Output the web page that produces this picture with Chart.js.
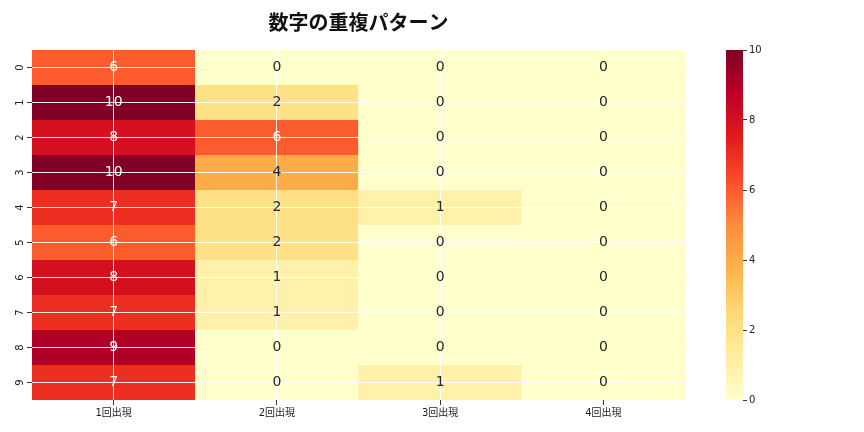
<!DOCTYPE html>
<html><head><meta charset="utf-8">
<script src="https://cdn.jsdelivr.net/npm/chart.js@4"></script>
<style>
html,body{margin:0;padding:0;background:#fff}
#wrap{position:relative;width:864px;height:432px;overflow:hidden}
#main{position:absolute;left:0;top:0}
#cb{position:absolute;left:690px;top:0}
</style>
</head><body>
<div id="wrap"><canvas id="main" width="864" height="432"></canvas><canvas id="cb" width="174" height="432"></canvas></div>
<script>
const titleText = '数字の重複パターン';
const columns = ['1回出現','2回出現','3回出現','4回出現'];
const rowLabels = ['0','1','2','3','4','5','6','7','8','9'];
const row0 = [6,0,0,0];
const row1 = [10,2,0,0];
const row2 = [8,6,0,0];
const row3 = [10,4,0,0];
const row4 = [7,2,1,0];
const row5 = [6,2,0,0];
const row6 = [8,1,0,0];
const row7 = [7,1,0,0];
const row8 = [9,0,0,0];
const row9 = [7,0,1,0];
const values = [row0,row1,row2,row3,row4,row5,row6,row7,row8,row9];
const vmin = 0, vmax = 10;
const cbTicks = [0,2,4,6,8,10];

const stops = [[255,255,204],[255,237,160],[254,217,118],[254,178,76],[253,141,60],[252,78,42],[227,26,28],[189,0,38],[128,0,38]];
function rgbAt(t){
  t = Math.max(0, Math.min(1, t));
  const p = t*(stops.length-1); const i = Math.min(Math.floor(p), stops.length-2); const f = p - i;
  return stops[i].map((c,k)=>Math.round(c + (stops[i+1][k]-c)*f));
}
function colorOf(v){ const c = rgbAt((v-vmin)/(vmax-vmin)); return `rgb(${c[0]},${c[1]},${c[2]})`; }
function textColorOf(v){
  const c = rgbAt((v-vmin)/(vmax-vmin)).map(x=>{x/=255; return x<=0.03928? x/12.92 : Math.pow((x+0.055)/1.055,2.4);});
  const lum = 0.2126*c[0]+0.7152*c[1]+0.0722*c[2];
  return lum > 0.408 ? '#262626' : '#ffffff';
}

const datasets = values.map((vals, r) => ({
  label: rowLabels[r],
  data: vals.map(() => [r-0.5, r+0.5]),
  vals: vals,
  backgroundColor: vals.map(colorOf),
  borderWidth: 0,
  grouped: false,
  barPercentage: 1.003,
  categoryPercentage: 1
}));

const annot = {
  id: 'annot',
  afterDraw(chart){
    const ctx = chart.ctx;
    ctx.save();
    ctx.font = '14px "DejaVu Sans", sans-serif';
    ctx.textAlign = 'center'; ctx.textBaseline = 'middle';
    chart.data.datasets.forEach((ds, di) => {
      chart.getDatasetMeta(di).data.forEach((bar, i) => {
        const v = ds.vals[i];
        const p = bar.getCenterPoint();
        ctx.fillStyle = textColorOf(v);
        ctx.fillText(String(v), p.x, p.y);
      });
    });
    ctx.restore();
  }
};

new Chart(document.getElementById('main'), {
  type: 'bar',
  data: { labels: columns, datasets },
  plugins: [annot],
  options: {
    responsive: false, animation: false,
    layout: { padding: { left: 0, right: 179, top: 0, bottom: 0 } },
    plugins: {
      legend: { display: false }, tooltip: { enabled: false },
      title: { display: true, text: titleText, fullSize: false, color: '#111',
        font: { family: '"Noto Sans CJK JP", sans-serif', size: 20, weight: 'bold' },
        padding: { top: 10, bottom: 16 } }
    },
    scales: {
      x: {
        type: 'category', offset: true,
        grid: { z: 1, offset: false, color: 'rgba(255,255,255,0.9)', lineWidth: 1, drawTicks: true, tickLength: 5, tickColor: '#333' },
        border: { display: false },
        ticks: { color: '#222', padding: 2, font: { family: '"DejaVu Sans", "Noto Sans CJK JP", sans-serif', size: 10 } },
        afterFit(s){ s.height = 32; }
      },
      y: {
        type: 'linear', min: -0.5, max: 9.5, reverse: true,
        afterBuildTicks(s){ s.ticks = rowLabels.map((_, i) => ({ value: i })); },
        grid: { z: 1, color: 'rgba(255,255,255,0.9)', lineWidth: 1, drawTicks: true, tickLength: 5, tickColor: '#333' },
        border: { display: false },
        ticks: { color: '#222', padding: 3, minRotation: 90, maxRotation: 90, crossAlign: 'center',
          font: { family: '"DejaVu Sans", sans-serif', size: 10 },
          callback: (v) => rowLabels[v] },
        afterFit(s){ s.width = 32; }
      }
    }
  }
});

new Chart(document.getElementById('cb'), {
  type: 'bar',
  data: { labels: [''], datasets: [{ data: [[vmin, vmax]], borderWidth: 0, barPercentage: 1, categoryPercentage: 1,
    backgroundColor(ctx){
      const ca = ctx.chart.chartArea; if (!ca) return '#fff';
      const g = ctx.chart.ctx.createLinearGradient(0, ca.bottom, 0, ca.top);
      for (let i = 0; i <= 40; i++){ const c = rgbAt(i/40); g.addColorStop(i/40, `rgb(${c[0]},${c[1]},${c[2]})`); }
      return g;
    } }] },
  options: {
    responsive: false, animation: false,
    layout: { padding: { left: 36, right: 0, top: 50, bottom: 32 } },
    plugins: { legend: { display: false }, tooltip: { enabled: false }, title: { display: false } },
    scales: {
      x: { display: false },
      y: { position: 'right', min: vmin, max: vmax,
        afterBuildTicks(s){ s.ticks = cbTicks.map(v => ({ value: v })); },
        grid: { drawOnChartArea: false, drawTicks: true, tickLength: 4, tickColor: '#333' },
        border: { display: false },
        ticks: { color: '#222', padding: 2, font: { family: '"DejaVu Sans", sans-serif', size: 10 } },
        afterFit(s){ s.width = 121; }
      }
    }
  }
});
</script>
</body></html>
